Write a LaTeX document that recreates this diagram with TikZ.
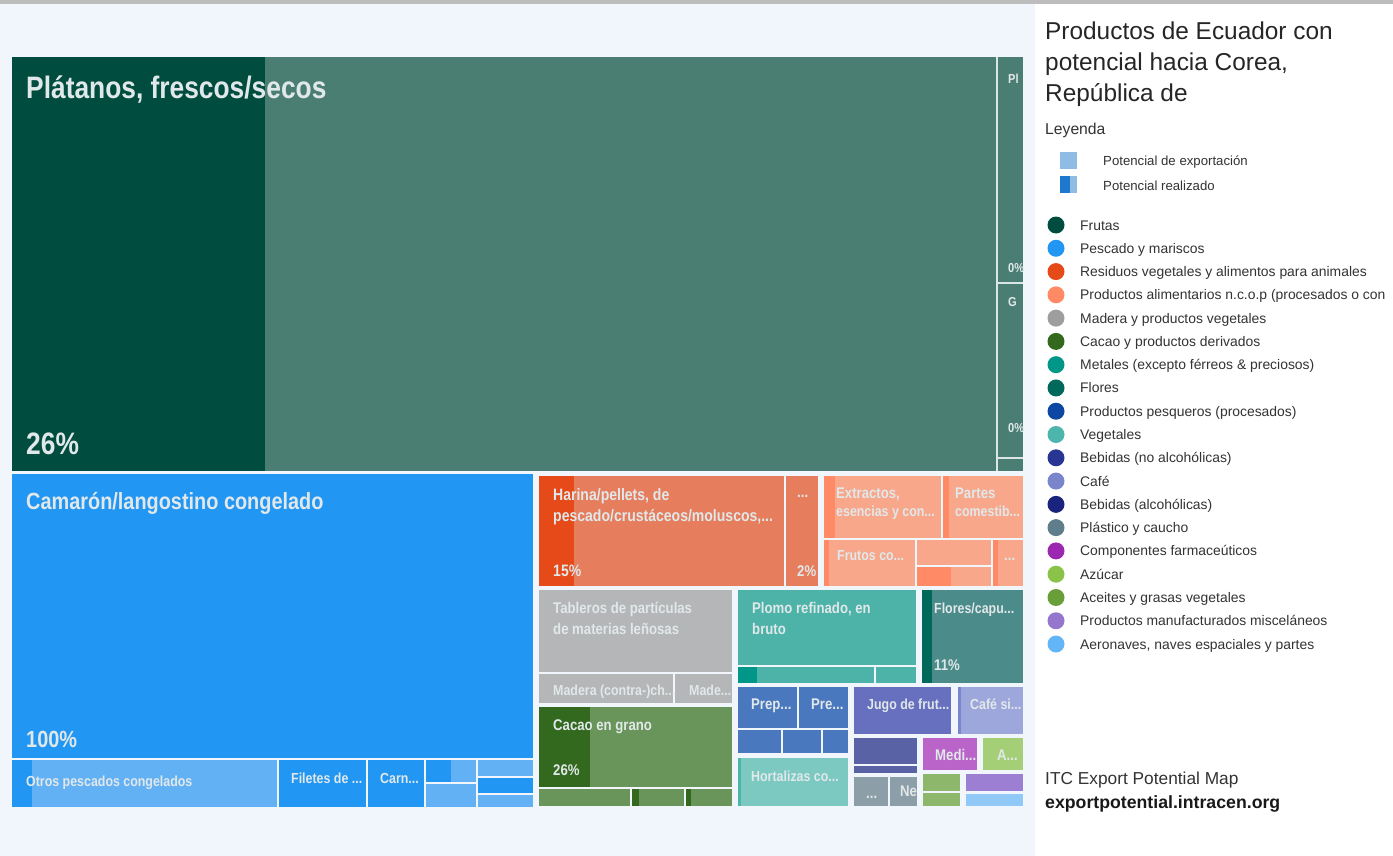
\documentclass[tikz,border=0pt]{standalone}
\usepackage{fontspec}
\setmainfont{Liberation Sans}
\newfontfamily\tmfont[FakeStretch=0.85]{Liberation Sans}
\definecolor{bgl}{HTML}{F1F5FC}
\definecolor{barc}{HTML}{BDBDBD}
\definecolor{labc}{HTML}{E1E8EA}
\definecolor{legt}{HTML}{333333}
\definecolor{frutD}{HTML}{004D40}\definecolor{frutL}{HTML}{4B7E73}
\definecolor{pescD}{HTML}{2196F3}\definecolor{pescL}{HTML}{63B1F5}
\definecolor{resD}{HTML}{E64A19}\definecolor{resL}{HTML}{E67D5C}
\definecolor{alimD}{HTML}{FF8A65}\definecolor{alimL}{HTML}{F8A78B}
\definecolor{madD}{HTML}{9E9E9E}\definecolor{madL}{HTML}{B5B6B8}
\definecolor{cacD}{HTML}{33691E}\definecolor{cacL}{HTML}{6A955A}
\definecolor{metD}{HTML}{009688}\definecolor{metL}{HTML}{4DB3A9}
\definecolor{florD}{HTML}{00695C}\definecolor{florL}{HTML}{4B8B8A}
\definecolor{pesqD}{HTML}{0D47A1}\definecolor{pesqL}{HTML}{4A78BF}
\definecolor{vegD}{HTML}{4DB6AC}\definecolor{vegL}{HTML}{7CC9C2}
\definecolor{bebD}{HTML}{283593}\definecolor{bebL}{HTML}{6770BE}
\definecolor{cafD}{HTML}{7986CB}\definecolor{cafL}{HTML}{9EA7DB}
\definecolor{alcD}{HTML}{1A237E}\definecolor{alcL}{HTML}{5A62A6}
\definecolor{plasD}{HTML}{607D8B}\definecolor{plasL}{HTML}{8C9EA8}
\definecolor{farD}{HTML}{9C27B0}\definecolor{farL}{HTML}{BA63C8}
\definecolor{azuD}{HTML}{8BC34A}\definecolor{azuL}{HTML}{A5CF76}
\definecolor{aceD}{HTML}{689F38}\definecolor{aceL}{HTML}{8DB86B}
\definecolor{miscD}{HTML}{9575CD}\definecolor{miscL}{HTML}{9C7ED3}
\definecolor{aerD}{HTML}{64B5F6}\definecolor{aerL}{HTML}{90C9F8}
\definecolor{potL}{HTML}{8FBCE5}\definecolor{potD}{HTML}{1E78CE}
\tikzset{
  lab/.style={anchor=base west, inner sep=0pt, text=labc, font={\tmfont\bfseries\fontsize{15.5}{18}\selectfont}},
  labt/.style={lab, font={\tmfont\bfseries\fontsize{13}{15}\selectfont}},
  labn/.style={lab, font={\tmfont\bfseries\fontsize{14.6}{17}\selectfont}},
  labh/.style={lab, font={\tmfont\bfseries\fontsize{16.5}{19}\selectfont}},
  labm/.style={lab, font={\tmfont\bfseries\fontsize{23.4}{26}\selectfont}},
  labb/.style={lab, font={\tmfont\bfseries\fontsize{31}{34}\selectfont}},
  leg/.style={anchor=base west, inner sep=0pt, text=legt, font={\fontsize{13.9}{16}\selectfont}},
  sepline/.style={draw=white!80!frutL, line width=1.3pt}
}
\begin{document}
\begin{tikzpicture}[x=1pt, y=-1pt]
\useasboundingbox (0,0) rectangle (1393,856);
\fill[bgl] (0,0) rectangle (1035,856);
\fill[white] (1035,0) rectangle (1393,856);
\fill[barc] (0,0) rectangle (1393,4);

\fill[frutL] (12,57) rectangle (1023,471);
\fill[frutD] (12,57) rectangle (265,471);
\draw[sepline] (997,57) -- (997,471) (997,283) -- (1023,283) (997,458) -- (1023,458);

\foreach \xa/\ya/\xb/\yb/\c in {
  12/474/533/758/pescD, 12/760/277/807/pescL, 12/760/32/807/pescD,
  279/760/366/807/pescD, 368/760/424/807/pescD,
  426/760/476/782/pescL, 426/760/451/782/pescD, 426/784/476/807/pescL,
  478/760/533/776/pescL, 478/778/533/793/pescD, 478/795/533/807/pescL,
  539/476/784/586/resL, 539/476/574/586/resD, 786/476/818/586/resL,
  824/476/941/538/alimL, 824/476/835/538/alimD,
  943/476/1023/538/alimL, 943/476/949/538/alimD,
  824/540/915/586/alimL, 824/540/829/586/alimD,
  917/540/991/565/alimL, 917/567/991/586/alimL, 917/567/951/586/alimD,
  993/540/1023/586/alimL, 993/540/998/586/alimD,
  539/590/732/672/madL, 539/674/673/703/madL, 675/674/732/703/madL,
  539/707/732/787/cacL, 539/707/590/787/cacD,
  539/789/630/806/cacL, 632/789/684/806/cacL, 632/789/639/806/cacD,
  686/789/732/806/cacL, 686/789/691/806/cacD,
  738/590/916/665/metL, 738/667/874/683/metL, 738/667/757/683/metD, 876/667/916/683/metL,
  922/590/1023/683/florL, 922/590/932/683/florD,
  738/687/797/728/pesqL, 799/687/848/728/pesqL,
  738/730/781/753/pesqL, 783/730/821/753/pesqL, 823/730/848/753/pesqL,
  738/758/848/806/vegL, 738/758/741/806/vegD,
  854/687/951/734/bebL, 958/687/1023/734/cafL, 958/687/961/734/cafD,
  854/738/917/764/alcL, 854/766/917/773/alcL,
  854/777/888/806/plasL, 890/777/917/806/plasL,
  923/738/977/770/farL, 983/738/1023/770/azuL,
  923/774/960/791/aceL, 923/793/960/806/aceL,
  966/774/1023/791/miscL, 966/794/1023/806/aerL}
  \fill[\c] (\xa,\ya) rectangle (\xb,\yb);

\node[labb] (platanos) at (26,99) {Plátanos, frescos/secos};
\node[labb] (platpct) at (26,454) {26\%};
\begin{scope}
\clip (997,57) rectangle (1023,471);
\node[labt] (pl) at (1008,84) {Pl};
\node[labt] (plpct) at (1008,272) {0\%};
\node[labt] (g) at (1008,306) {G};
\node[labt] (gpct) at (1008,432) {0\%};
\end{scope}

\node[labm] (camaron) at (26,509) {Camarón/langostino congelado};
\node[labm] (campct) at (26,747) {100\%};
\node[labn] (otros) at (26,786) {Otros pescados congelados};
\node[labn] (filetes) at (291,783) {Filetes de ...};
\node[labn] (carn) at (380,783) {Carn...};

\node[labh] (harina) at (553,500) {Harina/pellets, de};
\node[labh] (harina2) at (553,521) {pescado/crustáceos/moluscos,...};
\node[labh] (harpct) at (553,576) {15\%};
\node[lab] (resdots) at (797,497) {...};
\node[lab] (respct) at (797,576) {2\%};
\node[lab] (extr) at (836,498) {Extractos,};
\node[labn] (extr2) at (836,516) {esencias y con...};
\node[lab] (partes) at (955,498) {Partes};
\node[labn] (partes2) at (955,516) {comestib...};
\node[labn] (frutos) at (837,560) {Frutos co...};
\node[lab] (alimdots) at (1004,560) {...};

\node[lab] (tableros) at (553,613) {Tableros de partículas};
\node[lab] (tableros2) at (553,634) {de materias leñosas};
\node[labn] (madera) at (553,695) {Madera (contra-)ch...};
\node[labn] (made) at (689,695) {Made...};
\node[lab] (cacao) at (553,730) {Cacao en grano};
\node[lab] (cacpct) at (553,775) {26\%};

\node[lab] (plomo) at (752,613) {Plomo refinado, en};
\node[lab] (plomo2) at (752,634) {bruto};
\node[labn] (flores) at (934,613) {Flores/capu...};
\node[lab] (florpct) at (934,670) {11\%};
\node[lab] (prep) at (751,709) {Prep...};
\node[lab] (pre) at (811,709) {Pre...};
\node[labn] (hortal) at (751,781) {Hortalizas co...};
\node[labn] (jugo) at (867,709) {Jugo de frut...};
\node[labn] (cafe) at (970,709) {Café si...};
\node[lab] (medi) at (935,760) {Medi...};
\node[lab] (azu) at (997,760) {A...};
\node[lab] (plasdots) at (866,798) {...};
\begin{scope}
\clip (890,777) rectangle (917,806);
\node[lab] (plasn) at (900,796) {Ne};
\end{scope}

\node[leg, text=black!85, font={\fontsize{24.4}{28}\selectfont}] (tit1) at (1045,40) {Productos de Ecuador con};
\node[leg, text=black!85, font={\fontsize{24.4}{28}\selectfont}] (tit2) at (1045,71) {potencial hacia Corea,};
\node[leg, text=black!85, font={\fontsize{24.4}{28}\selectfont}] (tit3) at (1045,102) {República de};
\node[leg, font={\fontsize{15.7}{18}\selectfont}] (leyenda) at (1045,135) {Leyenda};
\fill[potL] (1060,152) rectangle (1077,169);
\fill[potL] (1060,176) rectangle (1077,193);
\fill[potD] (1060,176) rectangle (1070,193);
\node[leg, font={\fontsize{13.2}{16}\selectfont}] (potexp) at (1103,166) {Potencial de exportación};
\node[leg, font={\fontsize{13.2}{16}\selectfont}] (potreal) at (1103,190) {Potencial realizado};
\foreach \c/\t [count=\i from 0] in {frutD/Frutas, pescD/Pescado y mariscos,
  resD/Residuos vegetales y alimentos para animales,
  alimD/Productos alimentarios n.c.o.p (procesados o con,
  madD/Madera y productos vegetales, cacD/Cacao y productos derivados,
  metD/Metales (excepto férreos \& preciosos), florD/Flores,
  pesqD/Productos pesqueros (procesados), vegD/Vegetales,
  bebD/Bebidas (no alcohólicas), cafD/Café, alcD/Bebidas (alcohólicas),
  plasD/Plástico y caucho, farD/Componentes farmaceúticos, azuD/Azúcar,
  aceD/Aceites y grasas vegetales, miscD/Productos manufacturados misceláneos,
  aerD/{Aeronaves, naves espaciales y partes}} {
  \fill[\c] (1056,225+23.28*\i) circle (8.5pt);
  \node[leg] (cat\i) at (1080,230+23.28*\i) {\t};
}
\node[leg, font={\fontsize{17.3}{20}\selectfont}] (itc) at (1045,784) {ITC Export Potential Map};
\node[leg, text=black!90, font={\bfseries\fontsize{17.7}{20}\selectfont}] (url) at (1045,808) {exportpotential.intracen.org};
\end{tikzpicture}
\end{document}
